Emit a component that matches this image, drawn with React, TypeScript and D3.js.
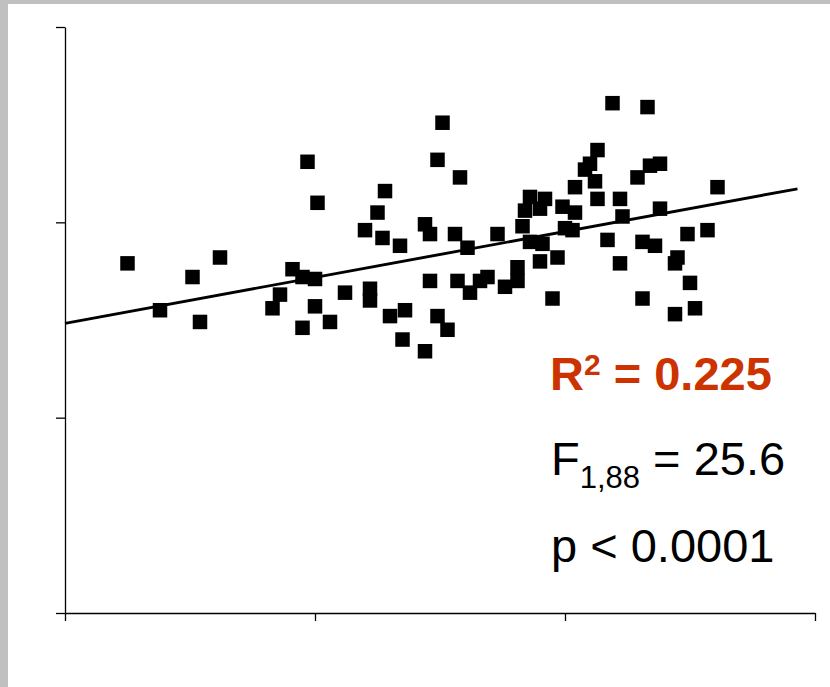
import { useEffect, useRef } from "react";
import * as d3 from "d3";

// scatter points (x, y in axis units 0..3)
const xs = [
  0.25, 0.38, 0.51, 0.54, 0.62, 0.83, 0.86, 0.91, 0.95, 1.0, 0.95, 1.0, 1.06,
  0.97, 1.01, 1.12, 1.22, 1.22, 1.3, 1.36, 1.35, 1.44, 1.46, 1.49, 1.53, 1.51,
  1.49, 1.58, 1.28, 1.25, 1.2, 1.27, 1.34, 1.44, 1.46, 1.56, 1.61, 1.57, 1.62,
  1.66, 1.69, 1.73, 1.76, 1.81, 1.81, 1.83, 1.84, 1.86, 1.92, 1.9, 1.86, 1.91,
  1.9, 1.97, 1.95, 1.99, 2.04, 2.0, 2.03, 2.04, 2.13, 2.1, 2.08, 2.12, 2.13,
  2.19, 2.33, 2.22, 2.23, 2.29, 2.34, 2.38, 2.38, 2.61, 2.17, 2.31, 2.36, 2.49,
  2.57, 2.22, 2.45, 2.44, 2.5, 2.31, 2.52, 2.44,
];
const ys = [
  1.79, 1.55, 1.72, 1.49, 1.82, 1.56, 1.63, 1.76, 1.72, 1.71, 1.46, 1.57, 1.49,
  2.31, 2.1, 1.64, 1.66, 1.6, 1.52, 1.55, 1.4, 1.34, 1.7, 1.52, 1.45, 2.51,
  2.32, 2.23, 2.16, 2.05, 1.96, 1.92, 1.88, 1.99, 1.94, 1.94, 1.87, 1.7, 1.64,
  1.7, 1.72, 1.94, 1.67, 1.7, 1.77, 1.98, 2.06, 2.13, 2.12, 2.07, 1.9, 1.89,
  1.8, 1.82, 1.61, 2.08, 2.05, 1.97, 1.96, 2.18, 2.37, 2.3, 2.27, 2.21, 2.12,
  2.61, 2.59, 2.12, 2.03, 2.23, 2.29, 2.3, 2.07, 2.18, 1.91, 1.9, 1.88, 1.94,
  1.96, 1.79, 1.82, 1.79, 1.69, 1.61, 1.56, 1.53,
];

const tickValues = [0, 1, 2, 3];

// fitted line as drawn
const fitIntercept = 1.483;
const fitSlope = 0.235;
const fitRange = [0, 2.93];

const statR2 = "0.225";
const statF = "25.6";
const statFdf = "1,88";
const statP = "0.0001";

export default function App() {
  const svgRef = useRef<SVGSVGElement>(null);

  useEffect(() => {
    if (!svgRef.current) return;
    const svg = d3.select(svgRef.current);
    svg.selectAll("*").remove();

    const W = 830;
    const H = 687;
    svg.attr("width", W).attr("height", H);

    svg.append("rect").attr("width", W).attr("height", H).attr("fill", "#fff");
    // grey frame strips
    svg.append("rect").attr("width", W).attr("height", 4).attr("fill", "#c0c0c0");
    svg.append("rect").attr("width", 8).attr("height", H).attr("fill", "#c0c0c0");

    const x = d3.scaleLinear().domain([0, 3]).range([65, 815]);
    const y = d3.scaleLinear().domain([0, 3]).range([613, 27]);

    const yAxis = d3
      .axisLeft(y)
      .tickValues(tickValues)
      .tickSize(9)
      .tickSizeOuter(0)
      .tickFormat(() => "");
    const xAxis = d3
      .axisBottom(x)
      .tickValues(tickValues)
      .tickSize(8)
      .tickSizeOuter(0)
      .tickFormat(() => "");

    const gy = svg.append("g").attr("transform", "translate(65,0)").call(yAxis);
    const gx = svg.append("g").attr("transform", "translate(0,613)").call(xAxis);
    [gy, gx].forEach((g) => {
      g.selectAll(".domain, line").attr("stroke", "#000").attr("stroke-width", 1.3);
    });

    const pts = xs.map((v, i) => ({ x: v, y: ys[i] }));
    const size = 14.5;
    svg
      .append("g")
      .selectAll("rect")
      .data(pts)
      .join("rect")
      .attr("x", (d) => x(d.x) - size / 2)
      .attr("y", (d) => y(d.y) - size / 2)
      .attr("width", size)
      .attr("height", size)
      .attr("fill", "#000");

    const line = d3
      .line<number>()
      .x((d) => x(d))
      .y((d) => y(fitIntercept + fitSlope * d));
    svg
      .append("path")
      .attr("d", line(fitRange))
      .attr("fill", "none")
      .attr("stroke", "#000")
      .attr("stroke-width", 2.9);

    const font = "Arial, 'Liberation Sans', Helvetica, sans-serif";

    // R squared
    const t1 = svg
      .append("text")
      .attr("x", 550)
      .attr("y", 390)
      .attr("font-family", font)
      .attr("font-size", 47)
      .attr("font-weight", "bold")
      .attr("fill", "#cc3300");
    t1.append("tspan").text("R");
    t1.append("tspan").attr("font-size", 30).attr("dy", -15).text("2");
    t1.append("tspan").attr("dy", 15).text(` = ${statR2}`);

    // F statistic
    const t2 = svg
      .append("text")
      .attr("x", 551)
      .attr("y", 475)
      .attr("font-family", font)
      .attr("font-size", 47)
      .attr("fill", "#000");
    t2.append("tspan").text("F");
    t2.append("tspan").attr("font-size", 31).attr("dy", 13).text(statFdf);
    t2.append("tspan").attr("dy", -13).text(` = ${statF}`);

    // p value
    svg
      .append("text")
      .attr("x", 551)
      .attr("y", 562)
      .attr("font-family", font)
      .attr("font-size", 47)
      .attr("fill", "#000")
      .text(`p < ${statP}`);
  }, []);

  return (
    <div style={{ position: "fixed", left: 0, top: 0, width: 830, height: 687 }}>
      <svg ref={svgRef} style={{ display: "block" }} />
    </div>
  );
}
